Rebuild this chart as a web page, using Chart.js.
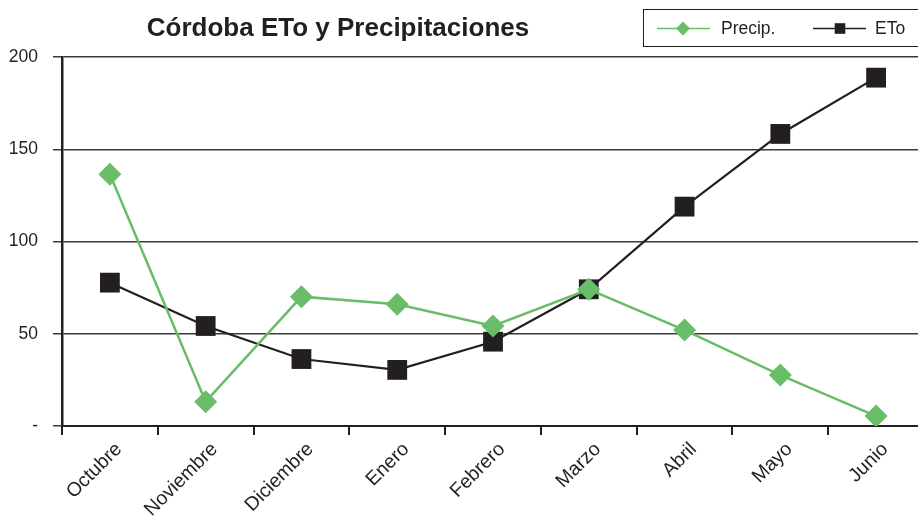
<!DOCTYPE html>
<html>
<head>
<meta charset="utf-8">
<script src="https://cdn.jsdelivr.net/npm/chart.js@4.4.0/dist/chart.umd.min.js"></script>
<style>
    html, body { margin: 0; padding: 0; background: #fff; overflow: hidden; }
    #wrap { width: 918px; height: 522px; overflow: hidden; }
    canvas { display: block; }
</style>
</head>
<body>
<div id="wrap"><canvas id="chart" width="938" height="522"></canvas></div>
<script>
const chartTitle = 'Córdoba ETo y Precipitaciones';
const months = ['Octubre', 'Noviembre', 'Diciembre', 'Enero', 'Febrero', 'Marzo', 'Abril', 'Mayo', 'Junio'];
const precip = [136.4, 13.2, 70.1, 66.0, 54.2, 74.1, 52.0, 27.6, 5.4];
const eto = [77.7, 54.2, 36.3, 30.4, 45.7, 74.1, 118.9, 158.3, 188.8];
const yMin = 0;
const yMax = 200;
const yStep = 50;

const green = '#69bd68';
const dark = '#231f20';
const font = '"Liberation Sans", Arial, sans-serif';

// title + boxed legend drawn by hand (Excel style: line with marker)
const headerPlugin = {
    id: 'header',
    afterDraw(chart) {
        const ctx = chart.ctx;
        ctx.save();
        ctx.fillStyle = dark;
        ctx.font = 'bold 26px ' + font;
        ctx.textAlign = 'center';
        ctx.textBaseline = 'alphabetic';
        ctx.fillText(chartTitle, 338, 36);

        ctx.strokeStyle = dark;
        ctx.lineWidth = 1;
        ctx.strokeRect(643.5, 9.5, 300, 37);

        const items = [
            {x0: 657, x1: 710, mx: 683, tx: 721, r: 7},
            {x0: 813, x1: 866, mx: 840, tx: 875, r: 7.5}
        ];
        chart.data.datasets.forEach((ds, i) => {
            const it = items[i];
            const y = 28.5;
            ctx.strokeStyle = ds.borderColor;
            ctx.lineWidth = 1.5;
            ctx.beginPath();
            ctx.moveTo(it.x0, y);
            ctx.lineTo(it.x1, y);
            ctx.stroke();
            ctx.fillStyle = ds.backgroundColor;
            Chart.helpers.drawPoint(ctx, {pointStyle: ds.pointStyle, rotation: 0, radius: it.r, borderWidth: 0}, it.mx, y);
            ctx.fillStyle = dark;
            ctx.font = '17.5px ' + font;
            ctx.textAlign = 'left';
            ctx.textBaseline = 'middle';
            ctx.fillText(ds.label, it.tx, y + 1);
        });
        ctx.restore();
    }
};

new Chart(document.getElementById('chart'), {
    type: 'line',
    data: {
        labels: months,
        datasets: [{
            label: 'Precip.',
            data: precip,
            borderColor: green,
            backgroundColor: green,
            borderWidth: 2.5,
            pointStyle: 'rectRot',
            pointRadius: 11.5,
            pointBorderWidth: 0,
            tension: 0
        }, {
            label: 'ETo',
            data: eto,
            borderColor: dark,
            backgroundColor: dark,
            borderWidth: 2.2,
            pointStyle: 'rect',
            pointRadius: 14,
            pointBorderWidth: 0,
            tension: 0
        }]
    },
    options: {
        responsive: false,
        animation: false,
        layout: {
            padding: {top: 57, right: 6, left: 0, bottom: 0}
        },
        plugins: {
            legend: {display: false},
            title: {display: false},
            tooltip: {enabled: false}
        },
        scales: {
            x: {
                offset: true,
                afterFit: (scale) => { scale.height = 96; },
                grid: {
                    offset: true,
                    drawOnChartArea: false,
                    drawTicks: true,
                    tickLength: 9,
                    color: dark,
                    lineWidth: 2
                },
                border: {color: dark, width: 2},
                ticks: {
                    color: dark,
                    font: {family: font, size: 19.5},
                    maxRotation: 45,
                    minRotation: 45,
                    autoSkip: false,
                    padding: 3,
                    labelOffset: 9
                }
            },
            y: {
                min: yMin,
                max: yMax,
                afterFit: (scale) => { scale.width = 62; },
                grid: {
                    color: '#3a3a3a',
                    lineWidth: 1.5,
                    tickLength: 9
                },
                border: {color: dark, width: 2.5},
                ticks: {
                    stepSize: yStep,
                    color: dark,
                    font: {family: font, size: 17.5},
                    padding: 15,
                    callback: (v) => v === 0 ? '-' : v
                }
            }
        }
    },
    plugins: [headerPlugin]
});
</script>
</body>
</html>
